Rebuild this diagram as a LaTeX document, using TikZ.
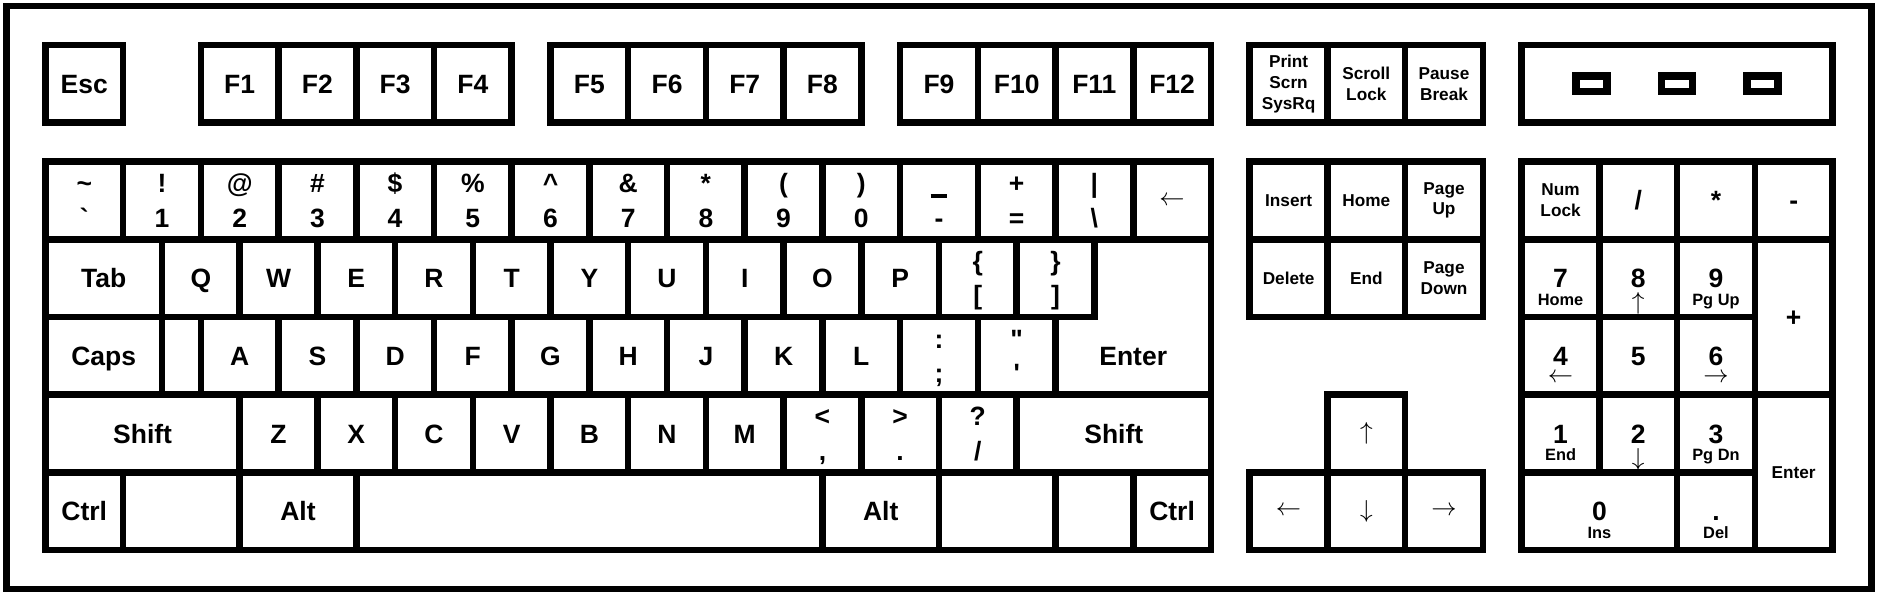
\documentclass[tikz,border=0pt]{standalone}
\usepackage{fontspec}
\setmainfont{Liberation Sans}[Ligatures=TeXOff]
\begin{document}
\begin{tikzpicture}[
  key/.style={draw, line width=2.4pt, minimum width=1cm, minimum height=1cm, inner sep=0pt},
  big/.style={font=\bfseries\fontsize{9.7}{11}\selectfont, text height=6.95pt, text depth=0pt, inner sep=0pt},
  small/.style={font=\bfseries\fontsize{6.3}{7.6}\selectfont, align=center, inner sep=0pt},
  hi/.style={big, yshift=0.22cm},
  lo/.style={big, yshift=-0.22cm},
  sub/.style={font=\bfseries\fontsize{6}{7}\selectfont, text height=4.3pt, text depth=0pt, inner sep=0pt, yshift=-0.27cm},
  arr/.style={font=\fontsize{9.5}{11}\selectfont, inner sep=0pt},
  led/.style={draw, line width=2.7pt, minimum width=0.4cm, minimum height=0.2cm, inner sep=0pt}]
\useasboundingbox (-0.585,-7.18) rectangle (23.65,0.58);
\draw[line width=2.4pt] (-0.5,0.5) rectangle (23.5,-7);
\node[key, big] (kesc) at (0.5,-0.5) {Esc};
\node[key, big] (kf1) at (2.5,-0.5) {F1};
\node[key, big] (kf2) at (3.5,-0.5) {F2};
\node[key, big] (kf3) at (4.5,-0.5) {F3};
\node[key, big] (kf4) at (5.5,-0.5) {F4};
\node[key, big] (kf5) at (7,-0.5) {F5};
\node[key, big] (kf6) at (8,-0.5) {F6};
\node[key, big] (kf7) at (9,-0.5) {F7};
\node[key, big] (kf8) at (10,-0.5) {F8};
\node[key, big] (kf9) at (11.5,-0.5) {F9};
\node[key, big] (kf10) at (12.5,-0.5) {F10};
\node[key, big] (kf11) at (13.5,-0.5) {F11};
\node[key, big] (kf12) at (14.5,-0.5) {F12};
\node[key, small] (kprt) at (16,-0.5) {Print\\Scrn\\SysRq};
\node[key, small] (kscr) at (17,-0.5) {Scroll\\Lock};
\node[key, small] (kpau) at (18,-0.5) {Pause\\Break};
\node[key, minimum width=4cm] (kled) at (21,-0.5) {};
\node[led] (led1) at (19.9,-0.5) {};
\node[led] (led2) at (21,-0.5) {};
\node[led] (led3) at (22.1,-0.5) {};
\node[key] (kgr) at (0.5,-2) {}; \node[hi] (kgra) at (kgr) {\textasciitilde}; \node[lo] (kgrb) at (kgr) {\symbol{96}};
\node[key] (k1) at (1.5,-2) {}; \node[hi] (k1a) at (k1) {!}; \node[lo] (k1b) at (k1) {1};
\node[key] (k2) at (2.5,-2) {}; \node[hi] (k2a) at (k2) {@}; \node[lo] (k2b) at (k2) {2};
\node[key] (k3) at (3.5,-2) {}; \node[hi] (k3a) at (k3) {\#}; \node[lo] (k3b) at (k3) {3};
\node[key] (k4) at (4.5,-2) {}; \node[hi] (k4a) at (k4) {\$}; \node[lo] (k4b) at (k4) {4};
\node[key] (k5) at (5.5,-2) {}; \node[hi] (k5a) at (k5) {\%}; \node[lo] (k5b) at (k5) {5};
\node[key] (k6) at (6.5,-2) {}; \node[hi] (k6a) at (k6) {\textasciicircum}; \node[lo] (k6b) at (k6) {6};
\node[key] (k7) at (7.5,-2) {}; \node[hi] (k7a) at (k7) {\&}; \node[lo] (k7b) at (k7) {7};
\node[key] (k8) at (8.5,-2) {}; \node[hi] (k8a) at (k8) {*}; \node[lo] (k8b) at (k8) {8};
\node[key] (k9) at (9.5,-2) {}; \node[hi] (k9a) at (k9) {(}; \node[lo] (k9b) at (k9) {9};
\node[key] (k0) at (10.5,-2) {}; \node[hi] (k0a) at (k0) {)}; \node[lo] (k0b) at (k0) {0};
\node[key] (kmin) at (11.5,-2) {}; \node[hi] (kmina) at (kmin) {\rule[-1.7pt]{6.2pt}{1.2pt}}; \node[lo] (kminb) at (kmin) {-};
\node[key] (keq) at (12.5,-2) {}; \node[hi] (keqa) at (keq) {+}; \node[lo] (keqb) at (keq) {=};
\node[key] (kbsl) at (13.5,-2) {}; \node[hi] (kbsla) at (kbsl) {|}; \node[lo] (kbslb) at (kbsl) {\textbackslash};
\node[key, arr] (kback) at (14.5,-2) {$\leftarrow$};
\node[key, big, minimum width=1.5cm] (ktab) at (0.75,-3) {Tab};
\node[key, big] (kq) at (2,-3) {Q};
\node[key, big] (kw) at (3,-3) {W};
\node[key, big] (ke) at (4,-3) {E};
\node[key, big] (kr) at (5,-3) {R};
\node[key, big] (kt) at (6,-3) {T};
\node[key, big] (ky) at (7,-3) {Y};
\node[key, big] (ku) at (8,-3) {U};
\node[key, big] (ki) at (9,-3) {I};
\node[key, big] (ko) at (10,-3) {O};
\node[key, big] (kp) at (11,-3) {P};
\node[key] (klbr) at (12,-3) {}; \node[hi] (klbra) at (klbr) {\{}; \node[lo] (klbrb) at (klbr) {[};
\node[key] (krbr) at (13,-3) {}; \node[hi] (krbra) at (krbr) {\}}; \node[lo] (krbrb) at (krbr) {]};
\draw[line width=2.4pt] (13.5,-2.5) -- (15,-2.5) -- (15,-4.5) -- (13,-4.5) -- (13,-3.5) -- (13.5,-3.5) -- cycle;
\node[big] (kent) at (14,-4) {Enter};
\node[key, big, minimum width=1.5cm] (kcaps) at (0.75,-4) {Caps};
\node[key, minimum width=0.5cm] (kgap) at (1.75,-4) {};
\node[key, big] (ka) at (2.5,-4) {A};
\node[key, big] (ks) at (3.5,-4) {S};
\node[key, big] (kd) at (4.5,-4) {D};
\node[key, big] (kf) at (5.5,-4) {F};
\node[key, big] (kg) at (6.5,-4) {G};
\node[key, big] (kh) at (7.5,-4) {H};
\node[key, big] (kj) at (8.5,-4) {J};
\node[key, big] (kk) at (9.5,-4) {K};
\node[key, big] (kl) at (10.5,-4) {L};
\node[key] (ksem) at (11.5,-4) {}; \node[hi] (ksema) at (ksem) {:}; \node[lo] (ksemb) at (ksem) {;};
\node[key] (kquo) at (12.5,-4) {}; \node[hi] (kquoa) at (kquo) {"}; \node[lo] (kquob) at (kquo) {'};
\node[key, big, minimum width=2.5cm] (klsh) at (1.25,-5) {Shift};
\node[key, big] (kz) at (3,-5) {Z};
\node[key, big] (kx) at (4,-5) {X};
\node[key, big] (kc) at (5,-5) {C};
\node[key, big] (kv) at (6,-5) {V};
\node[key, big] (kb) at (7,-5) {B};
\node[key, big] (kn) at (8,-5) {N};
\node[key, big] (km) at (9,-5) {M};
\node[key] (kcom) at (10,-5) {}; \node[hi] (kcoma) at (kcom) {<}; \node[lo] (kcomb) at (kcom) {,};
\node[key] (kdot) at (11,-5) {}; \node[hi] (kdota) at (kdot) {>}; \node[lo] (kdotb) at (kdot) {.};
\node[key] (ksl) at (12,-5) {}; \node[hi] (ksla) at (ksl) {?}; \node[lo] (kslb) at (ksl) {/};
\node[key, big, minimum width=2.5cm] (krsh) at (13.75,-5) {Shift};
\node[key, big] (klct) at (0.5,-6) {Ctrl};
\node[key, minimum width=1.5cm] (klwin) at (1.75,-6) {};
\node[key, big, minimum width=1.5cm] (klalt) at (3.25,-6) {Alt};
\node[key, minimum width=6cm] (kspc) at (7,-6) {};
\node[key, big, minimum width=1.5cm] (kralt) at (10.75,-6) {Alt};
\node[key, minimum width=1.5cm] (krwin) at (12.25,-6) {};
\node[key] (kmenu) at (13.5,-6) {};
\node[key, big] (krct) at (14.5,-6) {Ctrl};
\node[key, small] (kins) at (16,-2) {Insert};
\node[key, small] (khom) at (17,-2) {Home};
\node[key, small] (kpgu) at (18,-2) {Page\\Up};
\node[key, small] (kdel) at (16,-3) {Delete};
\node[key, small] (kend) at (17,-3) {End};
\node[key, small] (kpgd) at (18,-3) {Page\\Down};
\node[key, arr] (kup) at (17,-5) {$\uparrow$};
\node[key, arr] (klft) at (16,-6) {$\leftarrow$};
\node[key, arr] (kdwn) at (17,-6) {$\downarrow$};
\node[key, arr] (krgt) at (18,-6) {$\rightarrow$};
\node[key, small] (knum) at (19.5,-2) {Num\\Lock};
\node[key, big] (kdiv) at (20.5,-2) {/};
\node[key, big] (kmul) at (21.5,-2) {*};
\node[key, big] (ksub) at (22.5,-2) {-};
\node[key, big] (kn7) at (19.5,-3) {7}; \node[sub] (kn7b) at (kn7) {Home};
\node[key, big] (kn8) at (20.5,-3) {8}; \node[arr, yshift=-0.33cm] (kn8b) at (kn8) {$\uparrow$};
\node[key, big] (kn9) at (21.5,-3) {9}; \node[sub] (kn9b) at (kn9) {Pg Up};
\node[key, big, minimum height=2cm] (kadd) at (22.5,-3.5) {+};
\node[key, big] (kn4) at (19.5,-4) {4}; \node[arr, yshift=-0.28cm] (kn4b) at (kn4) {$\leftarrow$};
\node[key, big] (kn5) at (20.5,-4) {5};
\node[key, big] (kn6) at (21.5,-4) {6}; \node[arr, yshift=-0.28cm] (kn6b) at (kn6) {$\rightarrow$};
\node[key, big] (kn1) at (19.5,-5) {1}; \node[sub] (kn1b) at (kn1) {End};
\node[key, big] (kn2) at (20.5,-5) {2}; \node[arr, yshift=-0.33cm] (kn2b) at (kn2) {$\downarrow$};
\node[key, big] (kn3) at (21.5,-5) {3}; \node[sub] (kn3b) at (kn3) {Pg Dn};
\node[key, small, minimum height=2cm] (knent) at (22.5,-5.5) {Enter};
\node[key, big, minimum width=2cm] (kn0) at (20,-6) {0}; \node[sub] (kn0b) at (kn0) {Ins};
\node[key, big] (kndot) at (21.5,-6) {.}; \node[sub] (kndotb) at (kndot) {Del};
\end{tikzpicture}
\end{document}
